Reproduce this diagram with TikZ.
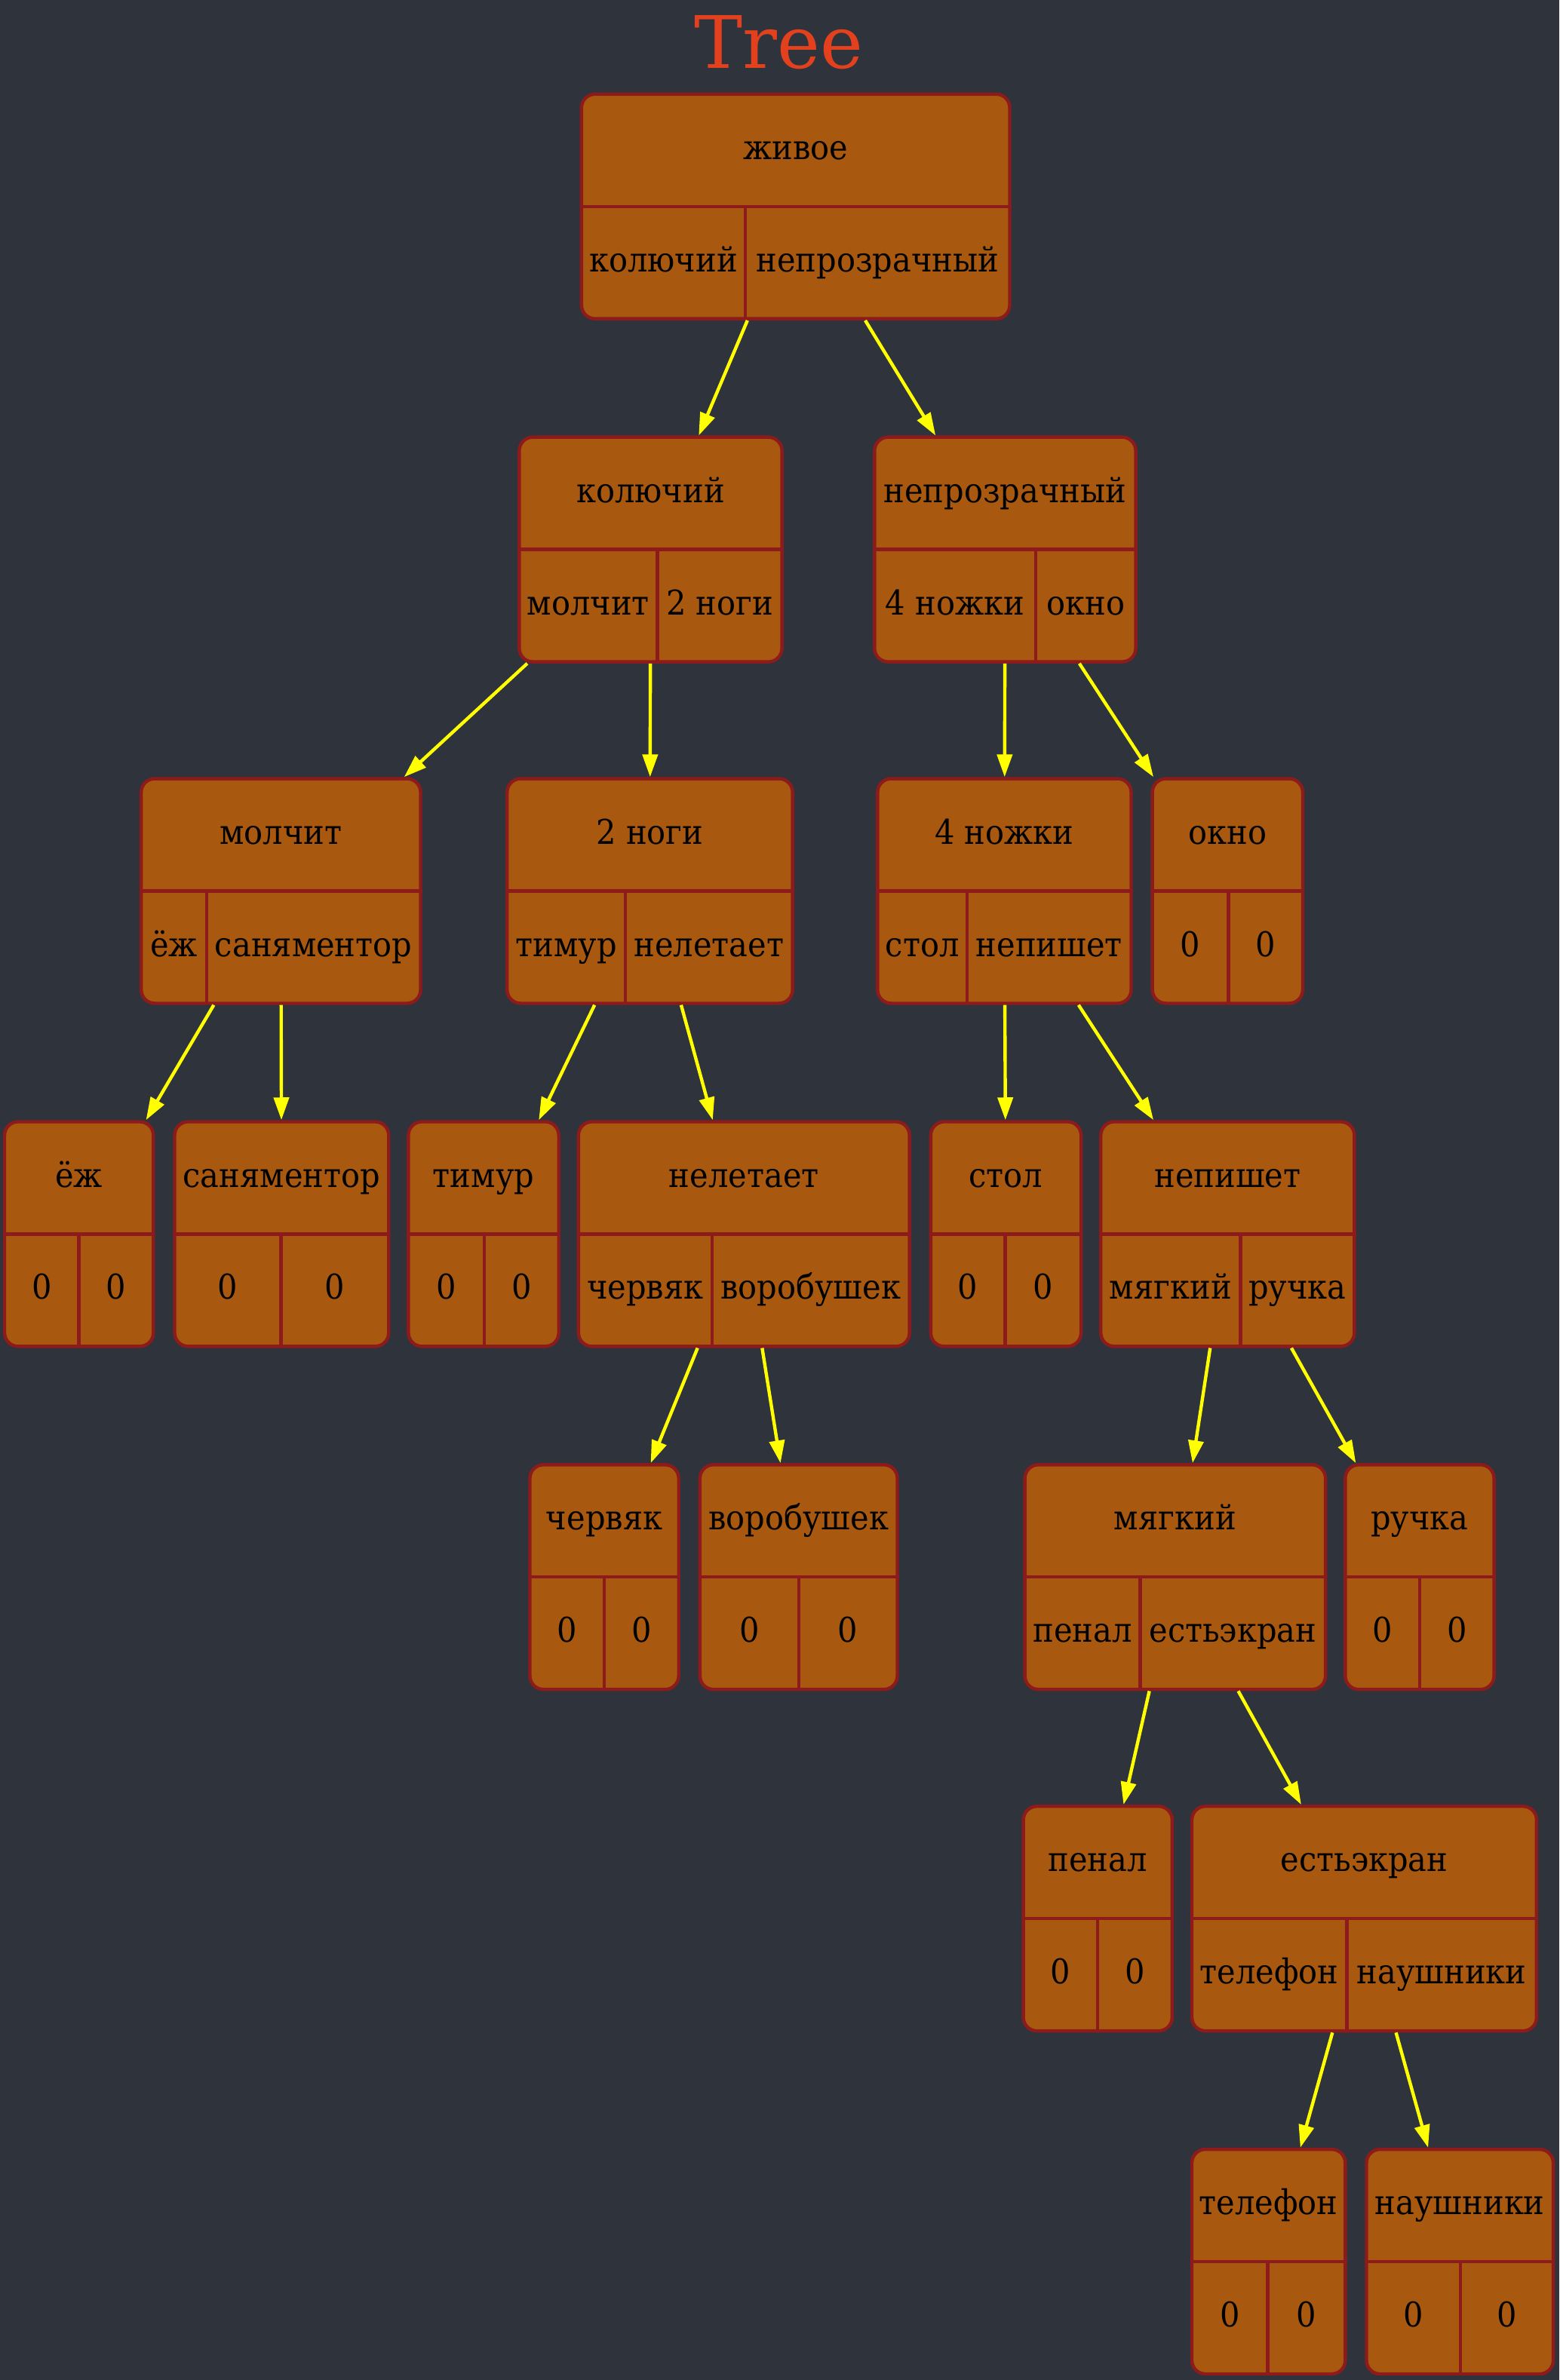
\documentclass[tikz,border=0pt]{standalone}
\usepackage{fontspec}
\setmainfont{DejaVu Serif}[FakeStretch=0.92]
\newfontfamily\titlefont{DejaVu Serif}
\usepackage{xcolor}
\usepackage{tikz}
\usetikzlibrary{fit, arrows.meta}

\definecolor{bgcol}{RGB}{47,51,59}
\definecolor{recfill}{RGB}{169,89,15}
\definecolor{recline}{RGB}{142,27,27}
\definecolor{titlecol}{RGB}{227,64,30}
\definecolor{linkcol}{RGB}{255,255,0}

\begin{document}
\begin{tikzpicture}[
                x=0.5032pt, y=-0.5032pt,
                >={Triangle[length=7.5pt, width=5pt]},
                record/.style={draw=recline, fill=recfill, line width=1.1pt,
                    rounded corners=4.5pt, inner sep=0pt},
                divider/.style={draw=recline, line width=1.1pt},
                field/.style={anchor=base, inner sep=0pt,
                    font=\fontsize{11.3pt}{14pt}\selectfont},
                link/.style={->, color=linkcol, line width=1.1pt}
            ]
                \useasboundingbox[fill=bgcol] (0,0) rectangle (1027,1568);

                \node[anchor=base, text=titlecol, font=\titlefont\fontsize{24pt}{28pt}\selectfont]
                    (title) at (513,45) {Tree};

                % name/left/right/split/top/label/left field/right field
                \foreach \n/\l/\r/\v/\t/\a/\b/\c in {
                    root/383/665/491/62/живое/колючий/непрозрачный,
                    kol/342/515/433/288/колючий/молчит/2 ноги,
                    nepr/576/748/682/288/непрозрачный/4 ножки/окно,
                    molch/93/277/136/513/молчит/ёж/саняментор,
                    nogi/334/522/412/513/2 ноги/тимур/нелетает,
                    nozhki/578/745/637/513/4 ножки/стол/непишет,
                    okno/759/858/809/513/окно/0/0,
                    ezh/3/101/52/739/ёж/0/0,
                    sanya/115/256/185/739/саняментор/0/0,
                    timur/269/368/319/739/тимур/0/0,
                    nelet/381/599/469/739/нелетает/червяк/воробушек,
                    stol/613/712/662/739/стол/0/0,
                    nepish/725/892/817/739/непишет/мягкий/ручка,
                    chervyak/349/447/398/965/червяк/0/0,
                    vorob/461/591/526/965/воробушек/0/0,
                    myag/675/873/751/965/мягкий/пенал/естьэкран,
                    ruchka/886/984/935/965/ручка/0/0,
                    penal/674/772/723/1190/пенал/0/0,
                    ekran/785/1012/887/1190/естьэкран/телефон/наушники,
                    telefon/785/886/835/1416/телефон/0/0,
                    naush/900/1023/962/1416/наушники/0/0}
                {
                    \node[record, fit={(\l,\t) (\r,\t+148)}] (\n) {};
                    \draw[divider] (\n.west) -- (\n.east);
                    \draw[divider] (\v,\t+74) -- (\v,\t+148);
                    \node[field] (\n-top) at ({(\l+\r)/2},\t+43) {\a};
                    \node[field] (\n-left) at ({(\l+\v)/2},\t+117) {\b};
                    \node[field] (\n-right) at ({(\v+\r)/2},\t+117) {\c};
                }

                \path[link]
                (root) edge (kol)
                (root) edge (nepr)

                (kol) edge (molch)
                (kol) edge (nogi)
                (nepr) edge (nozhki)
                (nepr) edge (okno)

                (molch) edge (ezh)
                (molch) edge (sanya)
                (nogi) edge (timur)
                (nogi) edge (nelet)
                (nozhki) edge (stol)
                (nozhki) edge (nepish)

                (nelet) edge (chervyak)
                (nelet) edge (vorob)
                (nepish) edge (myag)
                (nepish) edge (ruchka)

                (myag) edge (penal)
                (myag) edge (ekran)

                (ekran) edge (telefon)
                (ekran) edge (naush);
            \end{tikzpicture}
\end{document}
